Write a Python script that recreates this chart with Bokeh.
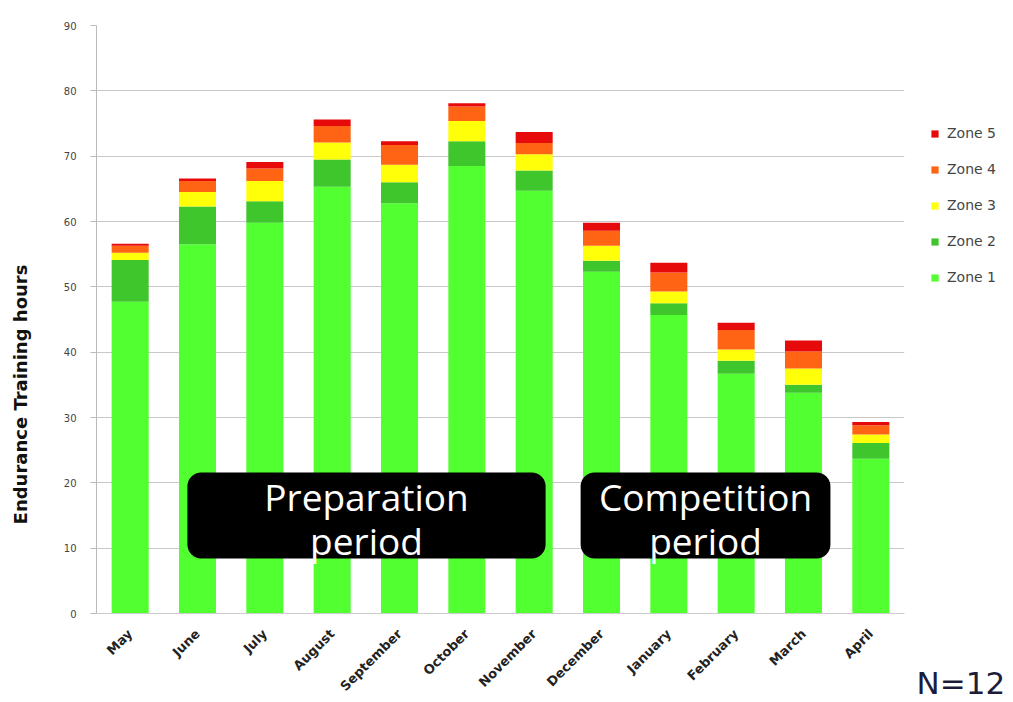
import math
from bokeh.plotting import figure
from bokeh.layouts import row
from bokeh.models import (ColumnDataSource, FactorRange, Range1d, Legend, LegendItem,
                          BoxAnnotation, Label, Title, SingleIntervalTicker)
from bokeh.embed import file_html
from bokeh.resources import INLINE

months = ["May", "June", "July", "August", "September", "October", "November",
          "December", "January", "February", "March", "April"]
zone1 = [47.7, 56.5, 59.8, 65.3, 62.8, 68.5, 64.7, 52.3, 45.7, 36.7, 33.8, 23.7]
zone2 = [6.4, 5.8, 3.3, 4.2, 3.2, 3.8, 3.1, 1.7, 1.8, 2.0, 1.2, 2.4]
zone3 = [1.1, 2.2, 3.1, 2.6, 2.7, 3.1, 2.5, 2.3, 1.8, 1.7, 2.5, 1.3]
zone4 = [1.1, 1.7, 1.9, 2.5, 3.0, 2.2, 1.7, 2.3, 2.9, 3.0, 2.6, 1.4]
zone5 = [0.3, 0.4, 1.0, 1.0, 0.6, 0.5, 1.7, 1.2, 1.5, 1.1, 1.7, 0.5]
zones = ["Zone 1", "Zone 2", "Zone 3", "Zone 4", "Zone 5"]
colors = ["#52ff30", "#3ec62c", "#ffff0a", "#ff6414", "#e60a0a"]
periods = ["Preparation\nperiod", "Competition\nperiod"]
y_title = "Endurance Training hours"
note = "N=12"

src = ColumnDataSource(data={"month": months, "Zone 1": zone1, "Zone 2": zone2,
                             "Zone 3": zone3, "Zone 4": zone4, "Zone 5": zone5})


def blank(width):
    f = figure(width=width, height=702, x_range=Range1d(0, width), y_range=Range1d(0, 588),
               x_axis_type=None, y_axis_type=None, output_backend="svg",
               toolbar_location=None, min_border=0)
    f.outline_line_color = None
    f.xgrid.grid_line_color = None
    f.ygrid.grid_line_color = None
    return f


# left strip with the y-axis title
p0 = blank(40)
p0.add_layout(Label(x=20, y=219, text=y_title, angle=math.pi / 2,
                    text_font="DejaVu Sans", text_font_size="18px",
                    text_font_style="bold", text_color="#111111",
                    text_align="center", text_baseline="middle"))

p = figure(x_range=FactorRange(*months), y_range=Range1d(0, 90),
           width=870, height=702, output_backend="svg",
           toolbar_location=None, min_border_left=56, min_border_top=25,
           min_border_bottom=89, min_border_right=6)

p.vbar_stack(zones, x="month", width=0.55, color=colors, source=src, line_color=None)

p.xgrid.grid_line_color = None
p.ygrid.grid_line_color = "#c8c8c8"
p.yaxis.ticker = SingleIntervalTicker(interval=10)
p.yaxis.major_label_text_font = "DejaVu Sans"
p.yaxis.major_label_text_font_size = "10px"
p.yaxis.major_label_text_color = "#444444"
p.yaxis.major_label_standoff = 14
p.yaxis.axis_line_color = "#bbbbbb"
p.yaxis.major_tick_line_color = "#bbbbbb"
p.yaxis.major_tick_out = 6
p.yaxis.major_tick_in = 0
p.yaxis.minor_tick_line_color = None

p.xaxis.axis_line_color = "#cccccc"
p.xaxis.major_tick_line_color = None
p.xaxis.minor_tick_line_color = None
p.xaxis.major_label_orientation = math.pi / 4
p.xaxis.major_label_text_font = "DejaVu Sans"
p.xaxis.major_label_text_font_size = "13px"
p.xaxis.major_label_text_font_style = "bold"
p.xaxis.major_label_text_color = "#222222"
p.xaxis.major_label_standoff = 12
p.outline_line_color = None

p.add_layout(BoxAnnotation(left=1.35, right=6.67, bottom=8.4, top=21.6,
                           fill_color="black", fill_alpha=1.0, line_color=None,
                           border_radius=14))
p.add_layout(BoxAnnotation(left=7.19, right=10.9, bottom=8.4, top=21.6,
                           fill_color="black", fill_alpha=1.0, line_color=None,
                           border_radius=14))
p.add_layout(Label(x=4.01, y=14.5, text=periods[0], text_color="white",
                   text_font="Open Sans", text_font_size="37px",
                   text_align="center", text_baseline="middle", text_line_height=0.86))
p.add_layout(Label(x=9.045, y=14.5, text=periods[1], text_color="white",
                   text_font="Open Sans", text_font_size="37px",
                   text_align="center", text_baseline="middle", text_line_height=0.86))

# right strip with legend and sample-size note
p2 = blank(103)
nan = float("nan")
proxies = [p2.quad(left=[nan], right=[nan], top=[nan], bottom=[nan],
                   fill_color=c, line_color=None) for c in colors]
items = [LegendItem(label=z, renderers=[r]) for z, r in zip(zones, proxies)]
legend = Legend(items=list(reversed(items)), location=(20, 326),
                label_text_font="DejaVu Sans", label_text_font_size="14px",
                label_text_color="#444444", glyph_width=9, glyph_height=9,
                label_height=20, spacing=16, label_standoff=8,
                border_line_color=None, background_fill_alpha=0,
                margin=0, padding=0)
p2.add_layout(legend)
p2.add_layout(Title(text=" ", text_font_size="10px", standoff=36), "below")
p2.add_layout(Title(text=note, align="left", offset=6, standoff=0,
                    vertical_align="bottom",
                    text_color="#1c1c3a", text_font="DejaVu Sans",
                    text_font_size="31px", text_font_style="normal"), "below")

layout = row(p0, p, p2, spacing=0)
open("out.html", "w").write(file_html(layout, INLINE))
